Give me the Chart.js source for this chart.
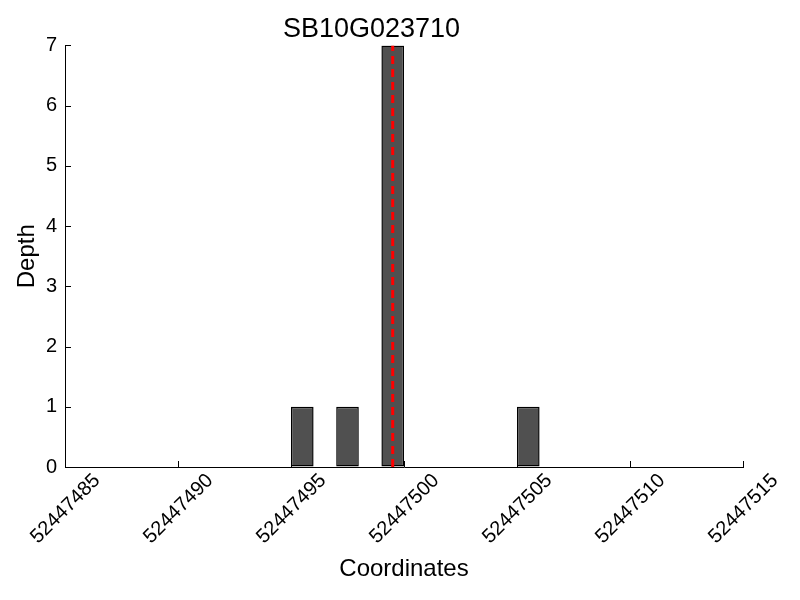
<!DOCTYPE html>
<html>
<head>
<meta charset="utf-8">
<script src="https://cdn.jsdelivr.net/npm/chart.js@4"></script>
<style>
  html, body { margin: 0; padding: 0; background: #fff; }
  #wrap { width: 800px; height: 600px; }
</style>
</head>
<body>
<div id="wrap"><canvas id="depth" width="800" height="600"></canvas></div>
<script>
// coverage depth per coordinate (bar centres)
var positions = [52447495.5, 52447497.5, 52447499.5, 52447505.5];
var depths = [1, 1, 7, 1];
// marked site (red dashed line)
var markerPos = 52447499.5;
var yRange = [0, 7];
var xTicks = [52447485, 52447490, 52447495, 52447500, 52447505, 52447510, 52447515];
var yTicks = [0, 1, 2, 3, 4, 5, 6, 7];

var fontFamily = '"Liberation Sans", Arial, Helvetica, sans-serif';

// small inward tick marks, like the original plot
var innerTicks = {
    id: 'innerTicks',
    afterDraw: function(chart) {
        var c = chart.ctx;
        var xs = chart.scales.x, ys = chart.scales.y;
        var area = chart.chartArea;
        c.save();
        c.strokeStyle = '#000';
        c.lineWidth = 1;
        c.beginPath();
        xTicks.forEach(function(v) {
            var px = Math.round(xs.getPixelForValue(v)) + 0.5;
            c.moveTo(px, area.bottom);
            c.lineTo(px, area.bottom - 6);
        });
        yTicks.forEach(function(v) {
            var py = Math.round(ys.getPixelForValue(v)) + 0.5;
            c.moveTo(area.left, py);
            c.lineTo(area.left + 6, py);
        });
        c.stroke();
        c.restore();
    }
};

var ctx = document.getElementById('depth').getContext('2d');
var chart = new Chart(ctx, {
    type: 'bar',
    data: {
        datasets: [{
            type: 'line',
            data: [{x: markerPos, y: yRange[0]}, {x: markerPos, y: yRange[1]}],
            borderColor: 'rgb(255, 0, 0)',
            borderWidth: 3,
            borderDash: [8, 5],
            pointRadius: 0,
            order: 0
        }, {
            type: 'bar',
            data: positions.map(function(p, i) { return {x: p, y: depths[i]}; }),
            backgroundColor: 'rgb(80, 80, 80)',
            borderColor: '#000',
            borderWidth: 1.5,
            borderSkipped: false,
            categoryPercentage: 0.5,
            barPercentage: 1.0,
            order: 1
        }]
    },
    options: {
        responsive: false,
        animation: false,
        layout: { padding: { left: 0, right: 57, top: 0, bottom: 0 } },
        plugins: {
            legend: { display: false },
            tooltip: { enabled: false },
            title: {
                display: true,
                text: 'SB10G023710',
                color: '#000',
                font: { family: fontFamily, size: 27, weight: 'normal', lineHeight: 1.2 },
                padding: { top: 13, bottom: 0 }
            }
        },
        scales: {
            x: {
                type: 'linear',
                offset: false,
                min: xTicks[0],
                max: xTicks[xTicks.length - 1],
                afterBuildTicks: function(scale) {
                    scale.ticks = xTicks.map(function(v) { return {value: v}; });
                },
                afterFit: function(scale) { scale.height = 133; },
                grid: { display: true, drawOnChartArea: false, drawTicks: false, offset: false },
                border: { display: true, color: '#000', width: 1 },
                ticks: {
                    autoSkip: false,
                    minRotation: 45,
                    maxRotation: 45,
                    padding: 2,
                    labelOffset: 32,
                    color: '#000',
                    font: { family: fontFamily, size: 20 },
                    callback: function(v) { return String(v); }
                },
                title: {
                    display: true,
                    text: 'Coordinates',
                    color: '#000',
                    font: { family: fontFamily, size: 24 },
                    padding: { top: 0, bottom: 16 }
                }
            },
            y: {
                min: yRange[0],
                max: yRange[1],
                afterBuildTicks: function(scale) {
                    scale.ticks = yTicks.map(function(v) { return {value: v}; });
                },
                afterFit: function(scale) { scale.width = 65; },
                grid: { display: true, drawOnChartArea: false, drawTicks: false },
                border: { display: true, color: '#000', width: 1 },
                ticks: {
                    padding: 8,
                    color: '#000',
                    font: { family: fontFamily, size: 20 }
                },
                title: {
                    display: true,
                    text: 'Depth',
                    color: '#000',
                    font: { family: fontFamily, size: 24 },
                    padding: { top: 13, bottom: 0 }
                }
            }
        }
    },
    plugins: [innerTicks]
});
</script>
</body>
</html>
